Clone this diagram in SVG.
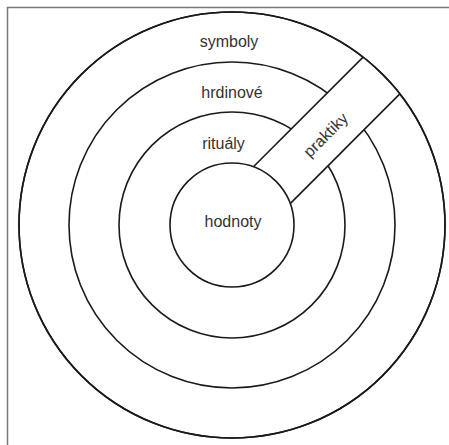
<svg xmlns="http://www.w3.org/2000/svg" width="449" height="445" viewBox="0 0 449 445">
<style>
.ring{fill:none;stroke:#1a1a1a;stroke-width:1.6}
.edge{stroke:#1a1a1a;stroke-width:1.6;fill:none}
.lbl{font-family:"Liberation Sans",Arial,sans-serif;font-size:16px;fill:#333;text-anchor:middle}
</style>
<rect width="449" height="445" fill="#fff"/>
<path d="M7.5 445 V7.5 H449" fill="none" stroke="#777" stroke-width="1.5"/>
<g id="ring-symboly"><circle class="ring" cx="232" cy="225" r="213"/></g>
<g id="ring-hrdinove"><circle class="ring" cx="232" cy="225" r="163"/></g>
<g id="ring-ritualy"><circle class="ring" cx="232" cy="225" r="113"/></g>
<g id="praktiky" transform="translate(232 225) rotate(-45)">
<rect x="56" y="-26" width="156" height="52" fill="#fff"/>
<g id="connectors">
<line class="edge" x1="56.3" y1="-26" x2="211.4" y2="-26"/>
<line class="edge" x1="56.3" y1="26" x2="211.4" y2="26"/>
</g>
<text class="lbl" x="130" y="8">praktiky</text>
</g>
<g id="hodnoty"><circle class="ring" cx="232" cy="225" r="62"/><text class="lbl" x="233" y="226.5">hodnoty</text></g>
<circle class="ring" cx="232" cy="225" r="213"/>
<text class="lbl" x="229" y="46.5">symboly</text>
<text class="lbl" x="232" y="97.5">hrdinové</text>
<text class="lbl" x="223.5" y="149">rituály</text>
</svg>
